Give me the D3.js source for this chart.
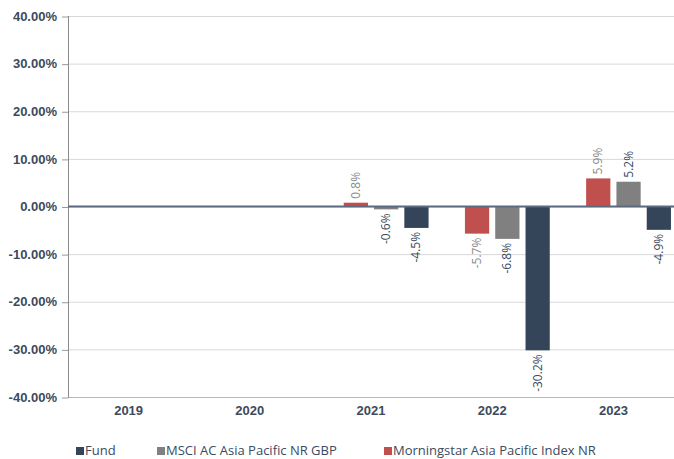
<!DOCTYPE html>
<html><head><meta charset="utf-8">
<script src="https://cdn.jsdelivr.net/npm/d3@7"></script>
<style>body{margin:0;background:#fff;}svg{display:block;font-family:"Open Sans","DejaVu Sans",sans-serif;}</style>
</head><body>
<svg id="c" width="674" height="459"></svg>
<script>
const years = ["2019","2020","2021","2022","2023"];
const seriesNames = ["Morningstar Asia Pacific Index NR","MSCI AC Asia Pacific NR GBP","Fund"];
const morningstar = [null, null, 0.8, -5.7, 5.9];
const msci = [null, null, -0.6, -6.8, 5.2];
const fund = [null, null, -4.5, -30.2, -4.9];
const yTicks = [40,30,20,10,0,-10,-20,-30,-40];
const legendOrder = ["Fund","MSCI AC Asia Pacific NR GBP","Morningstar Asia Pacific Index NR"];

const colors = {"Fund":"#344559","MSCI AC Asia Pacific NR GBP":"#808080","Morningstar Asia Pacific Index NR":"#c0504d"};
const labelColors = {"Fund":"#3a4a60","MSCI AC Asia Pacific NR GBP":"#3a4a60","Morningstar Asia Pacific Index NR":"#8a8a8a"};
const values = {"Morningstar Asia Pacific Index NR":morningstar,"MSCI AC Asia Pacific NR GBP":msci,"Fund":fund};

const svg = d3.select("#c");
const L=68, R=674, T=16, B=397;
const x = d3.scaleBand().domain(years).range([L,R]).padding(0);
const slots = ["_blank"].concat(seriesNames);
const xs = d3.scaleBand().domain(slots).range([0,x.bandwidth()]).paddingInner(0.2).paddingOuter(0.1);
const y = d3.scaleLinear().domain([-40,40]).range([B,T]);

// grid
svg.append("g").selectAll("line").data(yTicks).join("line")
  .attr("x1",L).attr("x2",R).attr("y1",d=>y(d)+0.5).attr("y2",d=>y(d)+0.5)
  .attr("stroke",d=>d===-40?"#b8b8b8":"#d8d8d8").attr("stroke-width",1);

// y axis labels
const yAxis = d3.axisLeft(y).tickValues(yTicks).tickFormat(d=>d.toFixed(2)+"%").tickSize(6).tickPadding(5);
const ga = svg.append("g").attr("transform",`translate(${L},0)`).call(yAxis);
ga.select(".domain").remove();
ga.selectAll(".tick line").attr("stroke","#999").attr("transform","translate(0,0.5)");
ga.selectAll("text").attr("fill","#3d4a5c").attr("font-size","13px").attr("font-weight","bold");

// left axis line
svg.append("line").attr("x1",L+0.5).attr("x2",L+0.5).attr("y1",T).attr("y2",B+1).attr("stroke","#8a8a8a");

// bars
seriesNames.forEach(s=>{
  const vals = values[s];
  const g = svg.append("g");
  years.forEach((yr,i)=>{
    const v = vals[i];
    if(v===null) return;
    const bx = x(yr)+xs(s);
    const bw = xs.bandwidth();
    g.append("rect").attr("x",bx).attr("width",bw)
      .attr("y",y(Math.max(0,v))).attr("height",Math.abs(y(v)-y(0)))
      .attr("fill",colors[s]);
    const cx = bx+bw/2;
    const ly = v>=0 ? y(v)-4 : y(v)+4;
    g.append("text")
      .attr("transform",`translate(${cx+4},${ly}) rotate(-90)`)
      .attr("text-anchor", v>=0?"start":"end")
      .attr("font-size","12px").attr("fill",labelColors[s])
      .text(v.toFixed(1)+"%");
  });
});

// zero line
svg.append("line").attr("x1",L).attr("x2",R).attr("y1",y(0)).attr("y2",y(0)).attr("stroke","#5a6a80").attr("stroke-width",2);

// x axis labels
const xAxis = d3.axisBottom(x).tickSize(0).tickPadding(9);
const gx = svg.append("g").attr("transform",`translate(0,${B})`).call(xAxis);
gx.select(".domain").remove();
gx.selectAll("text").attr("fill","#3d4a5c").attr("font-size","13px").attr("font-weight","bold");

// legend
const legX = [76,157,384];
legendOrder.forEach((s,i)=>{
  svg.append("rect").attr("x",legX[i]).attr("y",447).attr("width",8).attr("height",8).attr("fill",colors[s]);
  svg.append("text").attr("x",legX[i]+9).attr("y",455).attr("font-size","13px").attr("fill","#3a4a60").text(s);
});
</script>
</body></html>
